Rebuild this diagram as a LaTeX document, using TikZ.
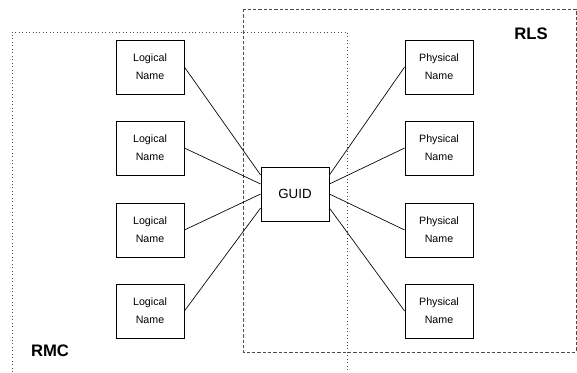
\documentclass[tikz,border=0pt]{standalone}
\usepackage{fontspec}
\setmainfont{Liberation Sans}
\usetikzlibrary{calc}

\tikzset{
	namebox/.style={draw, line width=0.6pt, minimum width=51pt, minimum height=40.5pt,
		align=center, font=\fontsize{8}{13.5}\selectfont, inner sep=0pt},
	link/.style={line width=0.5pt},
	area/.style={draw=black!70, line width=0.6pt},
	arealabel/.style={font=\fontsize{12.5}{14}\selectfont\bfseries}
}

\begin{document}
\begin{tikzpicture}[x=0.75pt, y=-0.75pt]
	\useasboundingbox (0,0) rectangle (577,372);

	% replica areas
	\draw[area, dotted] (12,372) -- (12,32) -- (347,32) -- (347,372);
	\draw[area, dash pattern=on 2.5pt off 1.5pt] (243,9) rectangle (576,352);
	\node[arealabel] (rls) at (531,34) {RLS};
	\node[arealabel] (rmc) at (50,351) {RMC};

	% logical names
	\node[namebox] (ln1) at (150,67) {Logical\\Name};
	\node[namebox] (ln2) at (150,148) {Logical\\Name};
	\node[namebox] (ln3) at (150,230) {Logical\\Name};
	\node[namebox] (ln4) at (150,311) {Logical\\Name};

	% physical names
	\node[namebox] (pn1) at (439,67) {Physical\\Name};
	\node[namebox] (pn2) at (439,148) {Physical\\Name};
	\node[namebox] (pn3) at (439,230) {Physical\\Name};
	\node[namebox] (pn4) at (439,311) {Physical\\Name};

	\node[namebox, font=\fontsize{10}{12}\selectfont] (guid) at (295,194) {GUID};

	\draw[link] (ln1.east) -- ($(guid.west)+(0,-19)$);
	\draw[link] (ln2.east) -- ($(guid.west)+(0,-10)$);
	\draw[link] (ln3.east) -- (guid.west);
	\draw[link] (ln4.east) -- ($(guid.west)+(0,14)$);

	\draw[link] (pn1.west) -- ($(guid.east)+(0,-19)$);
	\draw[link] (pn2.west) -- ($(guid.east)+(0,-10)$);
	\draw[link] (pn3.west) -- (guid.east);
	\draw[link] (pn4.west) -- ($(guid.east)+(0,14)$);
\end{tikzpicture}
\end{document}
